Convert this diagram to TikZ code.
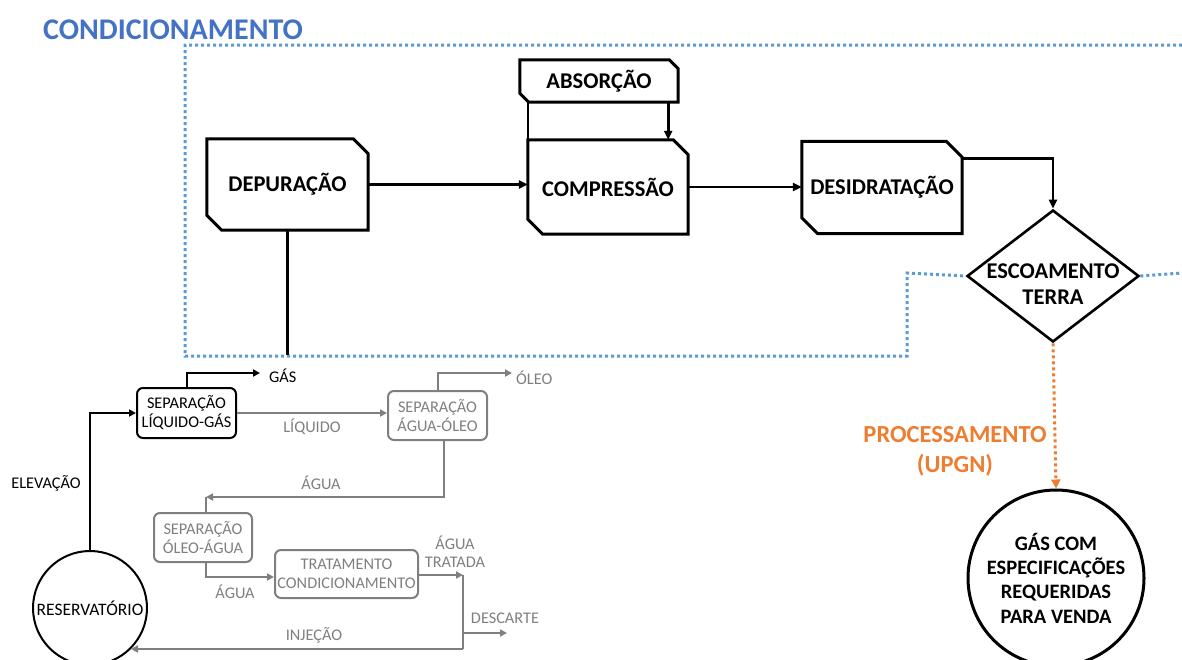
\documentclass[tikz,border=0pt]{standalone}
\usepackage{fontspec}
\setmainfont{Carlito}
\usetikzlibrary{arrows.meta,shapes.geometric,calc}

\definecolor{condblue}{HTML}{4472C4}
\definecolor{zoneblue}{HTML}{5B9BD5}
\definecolor{procorange}{HTML}{ED7D31}
\definecolor{flowgray}{HTML}{7F7F7F}

% outline of a box with the north-east and south-west corners cut off
\newcommand\snipoutline[2]{%
  \draw[line width=3pt, line join=miter]
    (#1.north west) -- ([xshift=-#2]#1.north east) -- ([yshift=-#2]#1.north east)
    -- (#1.south east) -- ([xshift=#2]#1.south west) -- ([yshift=#2]#1.south west) -- cycle;}

\begin{document}
\begin{tikzpicture}[x=1pt,y=-1pt,
  stage/.style={draw=none, inner sep=0pt, align=center,
    font=\fontsize{22.5}{26}\selectfont\bfseries},
  mainflow/.style={line width=2.6pt, -{Triangle[length=9pt,width=8pt]}},
  mainline/.style={line width=2.6pt},
  zone/.style={zoneblue, line width=3pt, dash pattern=on 3pt off 3pt},
  procflow/.style={procorange, line width=3pt, dash pattern=on 3pt off 3pt,
    -{Triangle[length=9pt,width=9pt]}},
  sepbox/.style={rectangle, rounded corners=6pt, line width=2pt, inner sep=0pt,
    align=center, font=\fontsize{16.3}{19}\selectfont},
  lowflow/.style={line width=2pt, -{Triangle[length=7pt,width=7pt]}},
  lowline/.style={line width=2pt},
  lowlabel/.style={inner sep=0pt, align=center, font=\fontsize{16.3}{18}\selectfont},
]
\useasboundingbox (0,0) rectangle (1182,659);

% ---------- conditioning zone ----------
\node[inner sep=0pt, text=condblue, font=\fontsize{30}{32}\selectfont\bfseries]
  (title) at (173,30) {CONDICIONAMENTO};

\node[stage, minimum width=161pt, minimum height=91pt] (dep) at (287.5,184.5) {DEPURAÇÃO};
\node[stage, minimum width=160pt, minimum height=94pt] (comp) at (608,187) {COMPRESSÃO};
\node[stage, minimum width=158pt, minimum height=42pt] (abs) at (599,81) {ABSORÇÃO};
\node[stage, minimum width=160pt, minimum height=92pt] (des) at (882,187.5) {DESIDRATAÇÃO};
\snipoutline{dep}{15pt}
\snipoutline{comp}{15pt}
\snipoutline{abs}{9pt}
\snipoutline{des}{16pt}

\node[diamond, draw, line width=2.6pt, minimum width=172pt, minimum height=132pt,
  inner sep=0pt] (esc) at (1053,276) {};
\node[stage] (escT) at (1053,284) {ESCOAMENTO\\TERRA};

\draw[zone] (1182,45) -- (185,45) -- (185,356) -- (907,356) -- (907,273) -- (esc.west);
\draw[zone] (esc.east) -- (1182,273);

\draw[mainflow] (dep.east) -- (dep.east -| comp.west);
\draw[mainflow] (comp.east) -- (comp.east -| des.west);
\draw[mainflow] ([xshift=-10pt]abs.south east) -- ([xshift=-10pt]abs.south east |- comp.north);
\draw[mainline] (comp.north west) -- (comp.north west |- abs.south);
\draw[mainflow] ([yshift=-17pt]des.north east) -| (esc.north);
\coordinate (depEnd) at (287,355);
\draw[mainline] (dep.south) -- (dep.south |- depEnd);

% ---------- processing ----------
\node[circle, draw, line width=3pt, minimum size=176pt, inner sep=0pt, align=center,
  font=\fontsize{20.5}{24.3}\selectfont\bfseries] (gas) at (1056,578)
  {GÁS COM\\ESPECIFICAÇÕES\\REQUERIDAS\\PARA VENDA};
\draw[procflow] (esc.south) -- (gas.north);
\node[inner sep=0pt, align=center, text=procorange,
  font=\fontsize{24.5}{30}\selectfont\bfseries] (proc) at (955,451) {PROCESSAMENTO\\(UPGN)};

% ---------- production facility ----------
\node[circle, draw, line width=2pt, minimum size=114pt, inner sep=0pt,
  font=\fontsize{17.5}{19}\selectfont] (res) at (90,608) {RESERVATÓRIO};
\node[sepbox, draw=black, minimum width=99pt, minimum height=50pt] (slg) at (186.5,413)
  {SEPARAÇÃO\\LÍQUIDO-GÁS};
\node[sepbox, draw=flowgray, text=flowgray, minimum width=99pt, minimum height=49pt]
  (sao) at (437.5,415.5) {SEPARAÇÃO\\ÁGUA-ÓLEO};
\node[sepbox, draw=flowgray, text=flowgray, minimum width=98pt, minimum height=49pt]
  (soa) at (203,537.5) {SEPARAÇÃO\\ÓLEO-ÁGUA};
\node[sepbox, draw=flowgray, text=flowgray, minimum width=143pt, minimum height=48pt]
  (trat) at (346.5,574) {TRATAMENTO\\CONDICIONAMENTO};

% lift and gas outlet
\draw[lowflow] (res.north) |- (slg.west);
\node[lowlabel] (lblElev) at (46,483) {ELEVAÇÃO};
\coordinate (gasOut) at (260,373);
\draw[lowflow] (slg.north) |- (gasOut);
\node[lowlabel, anchor=west] (lblGas) at (269,376) {GÁS};

% liquid line and oil outlet
\begin{scope}[flowgray]
\draw[lowflow] (slg.east) -- (slg.east -| sao.west);
\node[lowlabel] (lblLiq) at (312,427) {LÍQUIDO};
\coordinate (oilOut) at (512,373);
\draw[lowflow] (sao.north) |- (oilOut);
\node[lowlabel, anchor=west] (lblOil) at (516,378) {ÓLEO};

% water towards the oil-water separator
\coordinate (waterCorner) at (206,497);
\draw[lowflow] ([xshift=6.5pt]sao.south) |- (waterCorner);
\draw[lowline] (waterCorner) -- (waterCorner |- soa.north);
\node[lowlabel] (lblWater1) at (321,483) {ÁGUA};

% water towards treatment
\draw[lowflow] ([xshift=3pt]soa.south) |- ([yshift=-3pt]trat.west);
\node[lowlabel] (lblWater2) at (235,592) {ÁGUA};

% treated water: disposal or injection
\coordinate (junc) at (463,575);
\coordinate (juncLow) at (res.-45 -| junc);
\coordinate (discStart) at (463,633);
\coordinate (discOut) at (507,633);
\draw[lowflow] (trat.east |- junc) -- (junc);
\draw[lowline] (junc) -- (juncLow);
\draw[lowflow] (discStart) -- (discOut);
\draw[lowflow] (juncLow) -- (res.-45);
\node[lowlabel] (lblTreated) at (455,551.5) {ÁGUA\\TRATADA};
\node[lowlabel] (lblDisc) at (505,618) {DESCARTE};
\node[lowlabel] (lblInj) at (314,635) {INJEÇÃO};
\end{scope}
\end{tikzpicture}
\end{document}
